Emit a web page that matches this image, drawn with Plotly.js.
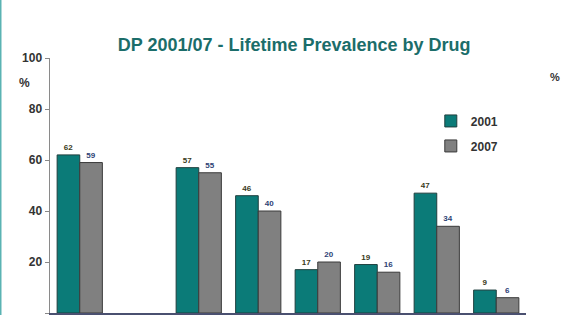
<!DOCTYPE html>
<html>
<head>
<meta charset="utf-8">
<script src="https://cdn.plot.ly/plotly-3.0.1.min.js"></script>
<style>
html,body{margin:0;padding:0;background:#fff;}
#chart{width:570px;height:315px;}
</style>
</head>
<body>
<div id="chart"></div>
<script>
// Data
const categories = ["Drug A", "(blank)", "Drug B", "Drug C", "Drug D", "Drug E", "Drug F", "Drug G"];
const values2001 = [62, null, 57, 46, 17, 19, 47, 9];
const values2007 = [59, null, 55, 40, 20, 16, 34, 6];
const seriesNames = ["2001", "2007"];
const yTicks = [0, 20, 40, 60, 80, 100];

const FONT = '"Liberation Sans", Arial, sans-serif';

function labels(arr){ return arr.map(v => v === null ? "" : String(v)); }

const traces = [
  {
    type: "bar", name: seriesNames[0], x: categories, y: values2001,
    legendgroup: "a",
    marker: {color: "#0b7b78", line: {color: "#1f3f3e", width: 1}},
    text: labels(values2001), textposition: "outside", cliponaxis: false,
    textfont: {family: FONT, size: 8, color: "#3a3a1a", weight: "bold"},
    hoverinfo: "none"
  },
  {
    type: "bar", name: seriesNames[1], x: categories, y: values2007,
    legendgroup: "b",
    marker: {color: "#808080", line: {color: "#3a3a3a", width: 1}},
    text: labels(values2007), textposition: "outside", cliponaxis: false,
    textfont: {family: FONT, size: 8, color: "#2e4275", weight: "bold"},
    hoverinfo: "none"
  }
];

const layout = {
  width: 570, height: 315,
  margin: {l: 50, r: 44, t: 58, b: 2, pad: 0},
  paper_bgcolor: "#ffffff", plot_bgcolor: "#ffffff",
  font: {family: FONT, color: "#333333"},
  title: {
    text: "<b>DP 2001/07 - Lifetime Prevalence by Drug</b>",
    font: {family: FONT, size: 18, color: "#1b6d6a"},
    xref: "container", yref: "container", x: 0.516, y: 0.857,
    xanchor: "center", yanchor: "middle"
  },
  barmode: "group", bargap: 0.24, bargroupgap: 0,
  showlegend: true,
  legend: {
    x: 0.80, y: 0.81, xanchor: "left", yanchor: "top",
    font: {family: FONT, size: 12, color: "#333333", weight: "bold"},
    bgcolor: "rgba(0,0,0,0)", tracegroupgap: 6, itemwidth: 30
  },
  xaxis: {
    type: "category", showticklabels: false, ticks: "",
    showline: true, linecolor: "#4a5070", linewidth: 1.5,
    showgrid: false, zeroline: false, fixedrange: true
  },
  yaxis: {
    range: [0, 100], tickvals: yTicks, ticktext: yTicks.map(String),
    ticks: "outside", ticklen: 4, tickcolor: "#888888", tickwidth: 1,
    showline: true, linecolor: "#8a8a8a", linewidth: 1.5,
    showgrid: false, zeroline: false,
    tickfont: {family: FONT, size: 12, color: "#333333", weight: "bold"},
    fixedrange: true
  },
  annotations: [
    {text: "<b>%</b>", xref: "paper", yref: "paper", x: -0.053, y: 0.902,
     xanchor: "center", yanchor: "middle",
     showarrow: false, font: {family: FONT, size: 12, color: "#333333"}},
    {text: "<b>%</b>", xref: "paper", yref: "paper", x: 1.061, y: 0.925,
     xanchor: "center", yanchor: "middle",
     showarrow: false, font: {family: FONT, size: 11, color: "#333333"}}
  ],
  shapes: [
    {type: "line", xref: "paper", yref: "paper",
     x0: -0.104, x1: -0.104, y0: -0.01, y1: 1.23,
     line: {color: "#5ab3b3", width: 2}}
  ]
};

Plotly.newPlot("chart", traces, layout, {displayModeBar: false, staticPlot: true});
</script>
</body>
</html>
